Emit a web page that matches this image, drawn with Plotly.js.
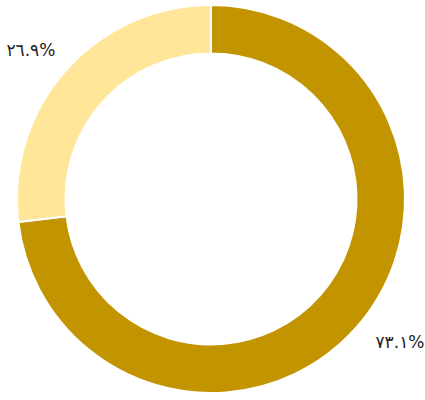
<!DOCTYPE html>
<html>
<head>
<meta charset="utf-8">
<script src="https://cdn.plot.ly/plotly-3.0.1.min.js"></script>
<style>html,body{margin:0;padding:0;background:#fff;}#chart{width:425px;height:400px;}</style>
</head>
<body>
<div id="chart"></div>
<script>
var categories = ["A", "B"];
var values = [73.1, 26.9];
var labelsText = ["٧٣.١%", "٢٦.٩%"];
var colors = ["#C29400", "#FFE699"];

// padding so the outside labels sit a little farther from the ring, as in the reference
var displayText = [
  "<span style='font-size:9px'>\u00a0</span><br>\u00a0\u00a0" + labelsText[0],
  labelsText[1] + "<br>\u00a0"
];

var data = [{
  type: "pie",
  labels: categories,
  values: values,
  text: displayText,
  textinfo: "text",
  textposition: "outside",
  hole: 0.75,
  sort: false,
  direction: "clockwise",
  rotation: 0,
  marker: {colors: colors, line: {color: "#ffffff", width: 2}},
  outsidetextfont: {family: "DejaVu Sans, sans-serif", size: 17, color: "#222222"},
  hoverinfo: "none",
  showlegend: false
}];

var layout = {
  width: 425,
  height: 400,
  margin: {l: 17, r: 20, t: 5, b: 7},
  paper_bgcolor: "#ffffff",
  plot_bgcolor: "#ffffff",
  showlegend: false
};

Plotly.newPlot("chart", data, layout, {displayModeBar: false, staticPlot: true});
</script>
</body>
</html>
